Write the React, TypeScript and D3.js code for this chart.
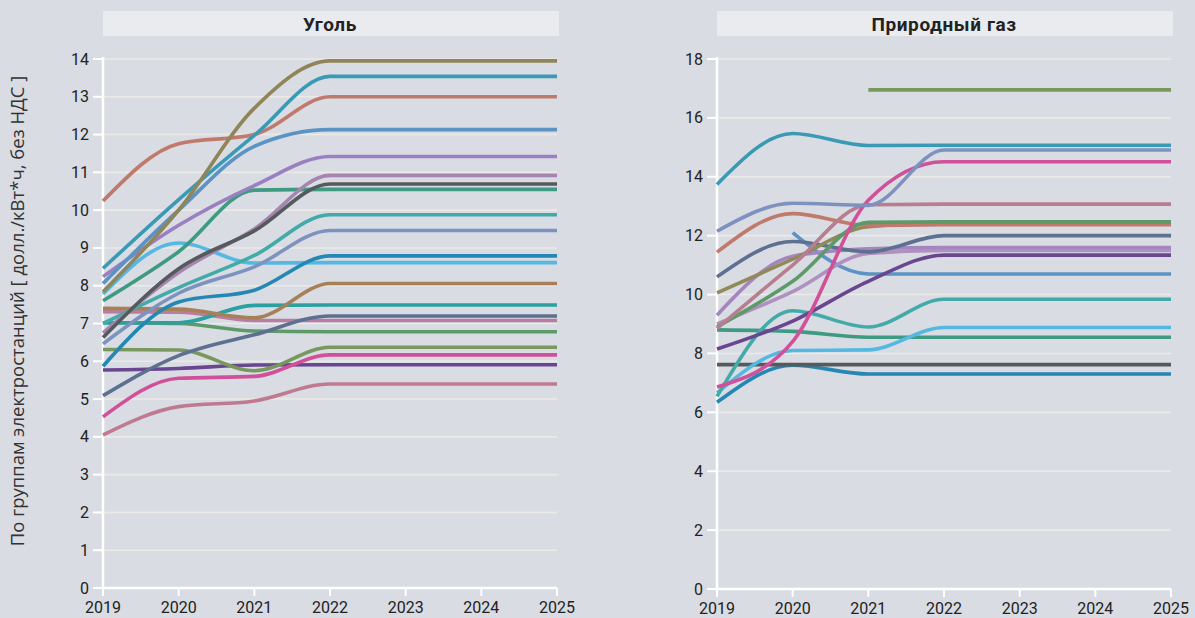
import React from "react";
import * as d3 from "d3";

const years = [2019, 2020, 2021, 2022, 2023, 2024, 2025];
const coalTicks = [0, 1, 2, 3, 4, 5, 6, 7, 8, 9, 10, 11, 12, 13, 14];
const gasTicks = [0, 2, 4, 6, 8, 10, 12, 14, 16, 18];

const titleCoal = "Уголь";
const titleGas = "Природный газ";
const yTitle = "По группам электростанций [ долл./кВт*ч, без НДС ]";

type V = (number | null)[];

// Coal series: values at 2019..2025
const coalValues: V[] = [
  [4.05, 4.8, 4.95, 5.4, 5.4, 5.4, 5.4],
  [5.77, 5.81, 5.9, 5.91, 5.91, 5.91, 5.91],
  [4.53, 5.55, 5.6, 6.17, 6.17, 6.17, 6.17],
  [6.31, 6.3, 5.75, 6.37, 6.37, 6.37, 6.37],
  [7.02, 7.0, 6.8, 6.78, 6.78, 6.78, 6.78],
  [7.31, 7.3, 7.08, 7.08, 7.08, 7.08, 7.08],
  [5.09, 6.15, 6.7, 7.2, 7.2, 7.2, 7.2],
  [7.02, 7.02, 7.48, 7.49, 7.49, 7.49, 7.49],
  [7.4, 7.38, 7.15, 8.06, 8.06, 8.06, 8.06],
  [7.78, 9.13, 8.6, 8.61, 8.61, 8.61, 8.61],
  [5.87, 7.57, 7.88, 8.79, 8.79, 8.79, 8.79],
  [6.46, 7.8, 8.5, 9.46, 9.46, 9.46, 9.46],
  [7.0, 7.95, 8.8, 9.88, 9.88, 9.88, 9.88],
  [7.6, 8.9, 10.53, 10.55, 10.55, 10.55, 10.55],
  [6.75, 8.35, 9.5, 10.92, 10.92, 10.92, 10.92],
  [6.63, 8.45, 9.45, 10.69, 10.69, 10.69, 10.69],
  [8.24, 9.6, 10.65, 11.42, 11.42, 11.42, 11.42],
  [8.06, 10.0, 11.69, 12.13, 12.13, 12.13, 12.13],
  [10.24, 11.76, 12.0, 13.0, 13.0, 13.0, 13.0],
  [8.46, 10.28, 11.98, 13.54, 13.54, 13.54, 13.54],
  [7.84, 10.0, 12.7, 13.95, 13.95, 13.95, 13.95],
];
const coalColors = [
  "#c07a90", "#6a4590", "#d0509a", "#78985e", "#5d9a6a", "#b87da0", "#5e7090",
  "#2aa0a0", "#a88058", "#55b8e3", "#2587b3", "#7e92c0", "#43aaaa", "#3e9a80",
  "#a585b0", "#555a5c", "#9a80c0", "#5b93c4", "#c07a6c", "#3a9ab5", "#8f8558",
];

// Natural gas series
const gasValues: V[] = [
  [6.34, 7.6, 7.3, 7.3, 7.3, 7.3, 7.3],
  [7.62, 7.62, 7.62, 7.62, 7.62, 7.62, 7.62],
  [8.8, 8.75, 8.55, 8.55, 8.55, 8.55, 8.55],
  [6.66, 8.1, 8.12, 8.88, 8.88, 8.88, 8.88],
  [6.54, 9.45, 8.9, 9.84, 9.84, 9.84, 9.84],
  [null, 12.1, 10.7, 10.7, 10.7, 10.7, 10.7],
  [8.15, 9.1, 10.45, 11.34, 11.34, 11.34, 11.34],
  [9.0, 10.1, 11.4, 11.5, 11.5, 11.5, 11.5],
  [9.3, 11.3, 11.55, 11.6, 11.6, 11.6, 11.6],
  [10.6, 11.8, 11.45, 12.0, 12.0, 12.0, 12.0],
  [10.06, 11.2, 12.3, 12.43, 12.43, 12.43, 12.43],
  [11.44, 12.75, 12.35, 12.37, 12.37, 12.37, 12.37],
  [8.9, 10.45, 12.45, 12.47, 12.47, 12.47, 12.47],
  [8.85, 11.0, 13.05, 13.07, 13.07, 13.07, 13.07],
  [6.86, 8.4, 13.2, 14.51, 14.51, 14.51, 14.51],
  [12.15, 13.1, 13.03, 14.91, 14.91, 14.91, 14.91],
  [13.74, 15.47, 15.06, 15.07, 15.07, 15.07, 15.07],
  [null, null, 16.95, 16.95, 16.95, 16.95, 16.95],
];
const gasColors = [
  "#2587b3", "#555a5c", "#3e9a80", "#55b8e3", "#43aaaa", "#5b93c4", "#6a4590",
  "#b090c0", "#a585c0", "#5e7090", "#8f8a58", "#c07a6c", "#5d9a6a", "#b87d8e",
  "#d0509a", "#7e92c0", "#3a9ab5", "#78985e",
];

const FONT = "Roboto, 'Noto Sans', sans-serif";

function Panel(props: {
  x0: number; x1: number; yZero: number; yTop: number; max: number;
  ticks: number[]; values: V[]; colors: string[]; title: string;
}) {
  const { x0, x1, yZero, yTop, max, ticks, values, colors, title } = props;
  const x = d3.scaleLinear().domain([2019, 2025]).range([x0, x1]);
  const y = d3.scaleLinear().domain([0, max]).range([yZero, yTop]);
  const line = d3
    .line<number | null>()
    .defined((d) => d !== null)
    .x((_, i) => x(years[i]))
    .y((d) => y(d as number))
    .curve(d3.curveMonotoneX);
  return (
    <g>
      <rect x={x0} y={11} width={x1 - x0 + 2} height={25} fill="#e9ebef" />
      <text x={(x0 + x1) / 2} y={30.5} textAnchor="middle" fontFamily={FONT} fontWeight={700} fontSize={19} letterSpacing={0.6} fill="#222">
        {title}
      </text>
      {ticks.filter((t) => t > 0).map((t) => (
        <line key={"g" + t} x1={x0} x2={x1} y1={y(t)} y2={y(t)} stroke="#eceae6" strokeWidth={1.6} />
      ))}
      {ticks.map((t) => (
        <g key={"t" + t}>
          <line x1={x0 - 10} x2={x0} y1={y(t)} y2={y(t)} stroke="#fff" strokeWidth={2} />
          <text x={x0 - 14} y={y(t) + 5.5} textAnchor="end" fontFamily={FONT} fontSize={16} fill="#222">
            {t}
          </text>
        </g>
      ))}
      {years.map((yr) => (
        <g key={"x" + yr}>
          <line x1={x(yr)} x2={x(yr)} y1={yZero} y2={yZero + 8} stroke="#fff" strokeWidth={2} />
          <text x={x(yr)} y={yZero + 25} textAnchor="middle" fontFamily={FONT} fontSize={16} fill="#222">
            {yr}
          </text>
        </g>
      ))}
      <line x1={x0} x2={x1} y1={yZero} y2={yZero} stroke="#fff" strokeWidth={2.5} />
      <line x1={x0} x2={x0} y1={yTop - 2} y2={yZero} stroke="#fff" strokeWidth={2.5} />
      {values.map((v, i) => (
        <path key={"l" + i} d={line(v) || ""} fill="none" stroke={colors[i]} strokeWidth={3.6} />
      ))}
    </g>
  );
}

export default function App() {
  return (
    <svg
      width={1195}
      height={618}
      style={{ position: "fixed", left: 0, top: 0, background: "#d9dce3" }}
    >
      <rect x={0} y={0} width={1195} height={618} fill="#d9dce3" />
      <text
        transform="translate(24,311) rotate(-90)"
        textAnchor="middle"
        fontFamily="'Open Sans', 'Noto Sans', sans-serif"
        fontSize={18.5}
        fill="#333"
      >
        {yTitle}
      </text>
      <Panel x0={103} x1={557} yZero={588} yTop={59} max={14} ticks={coalTicks} values={coalValues} colors={coalColors} title={titleCoal} />
      <Panel x0={717} x1={1171} yZero={589} yTop={59} max={18} ticks={gasTicks} values={gasValues} colors={gasColors} title={titleGas} />
    </svg>
  );
}
